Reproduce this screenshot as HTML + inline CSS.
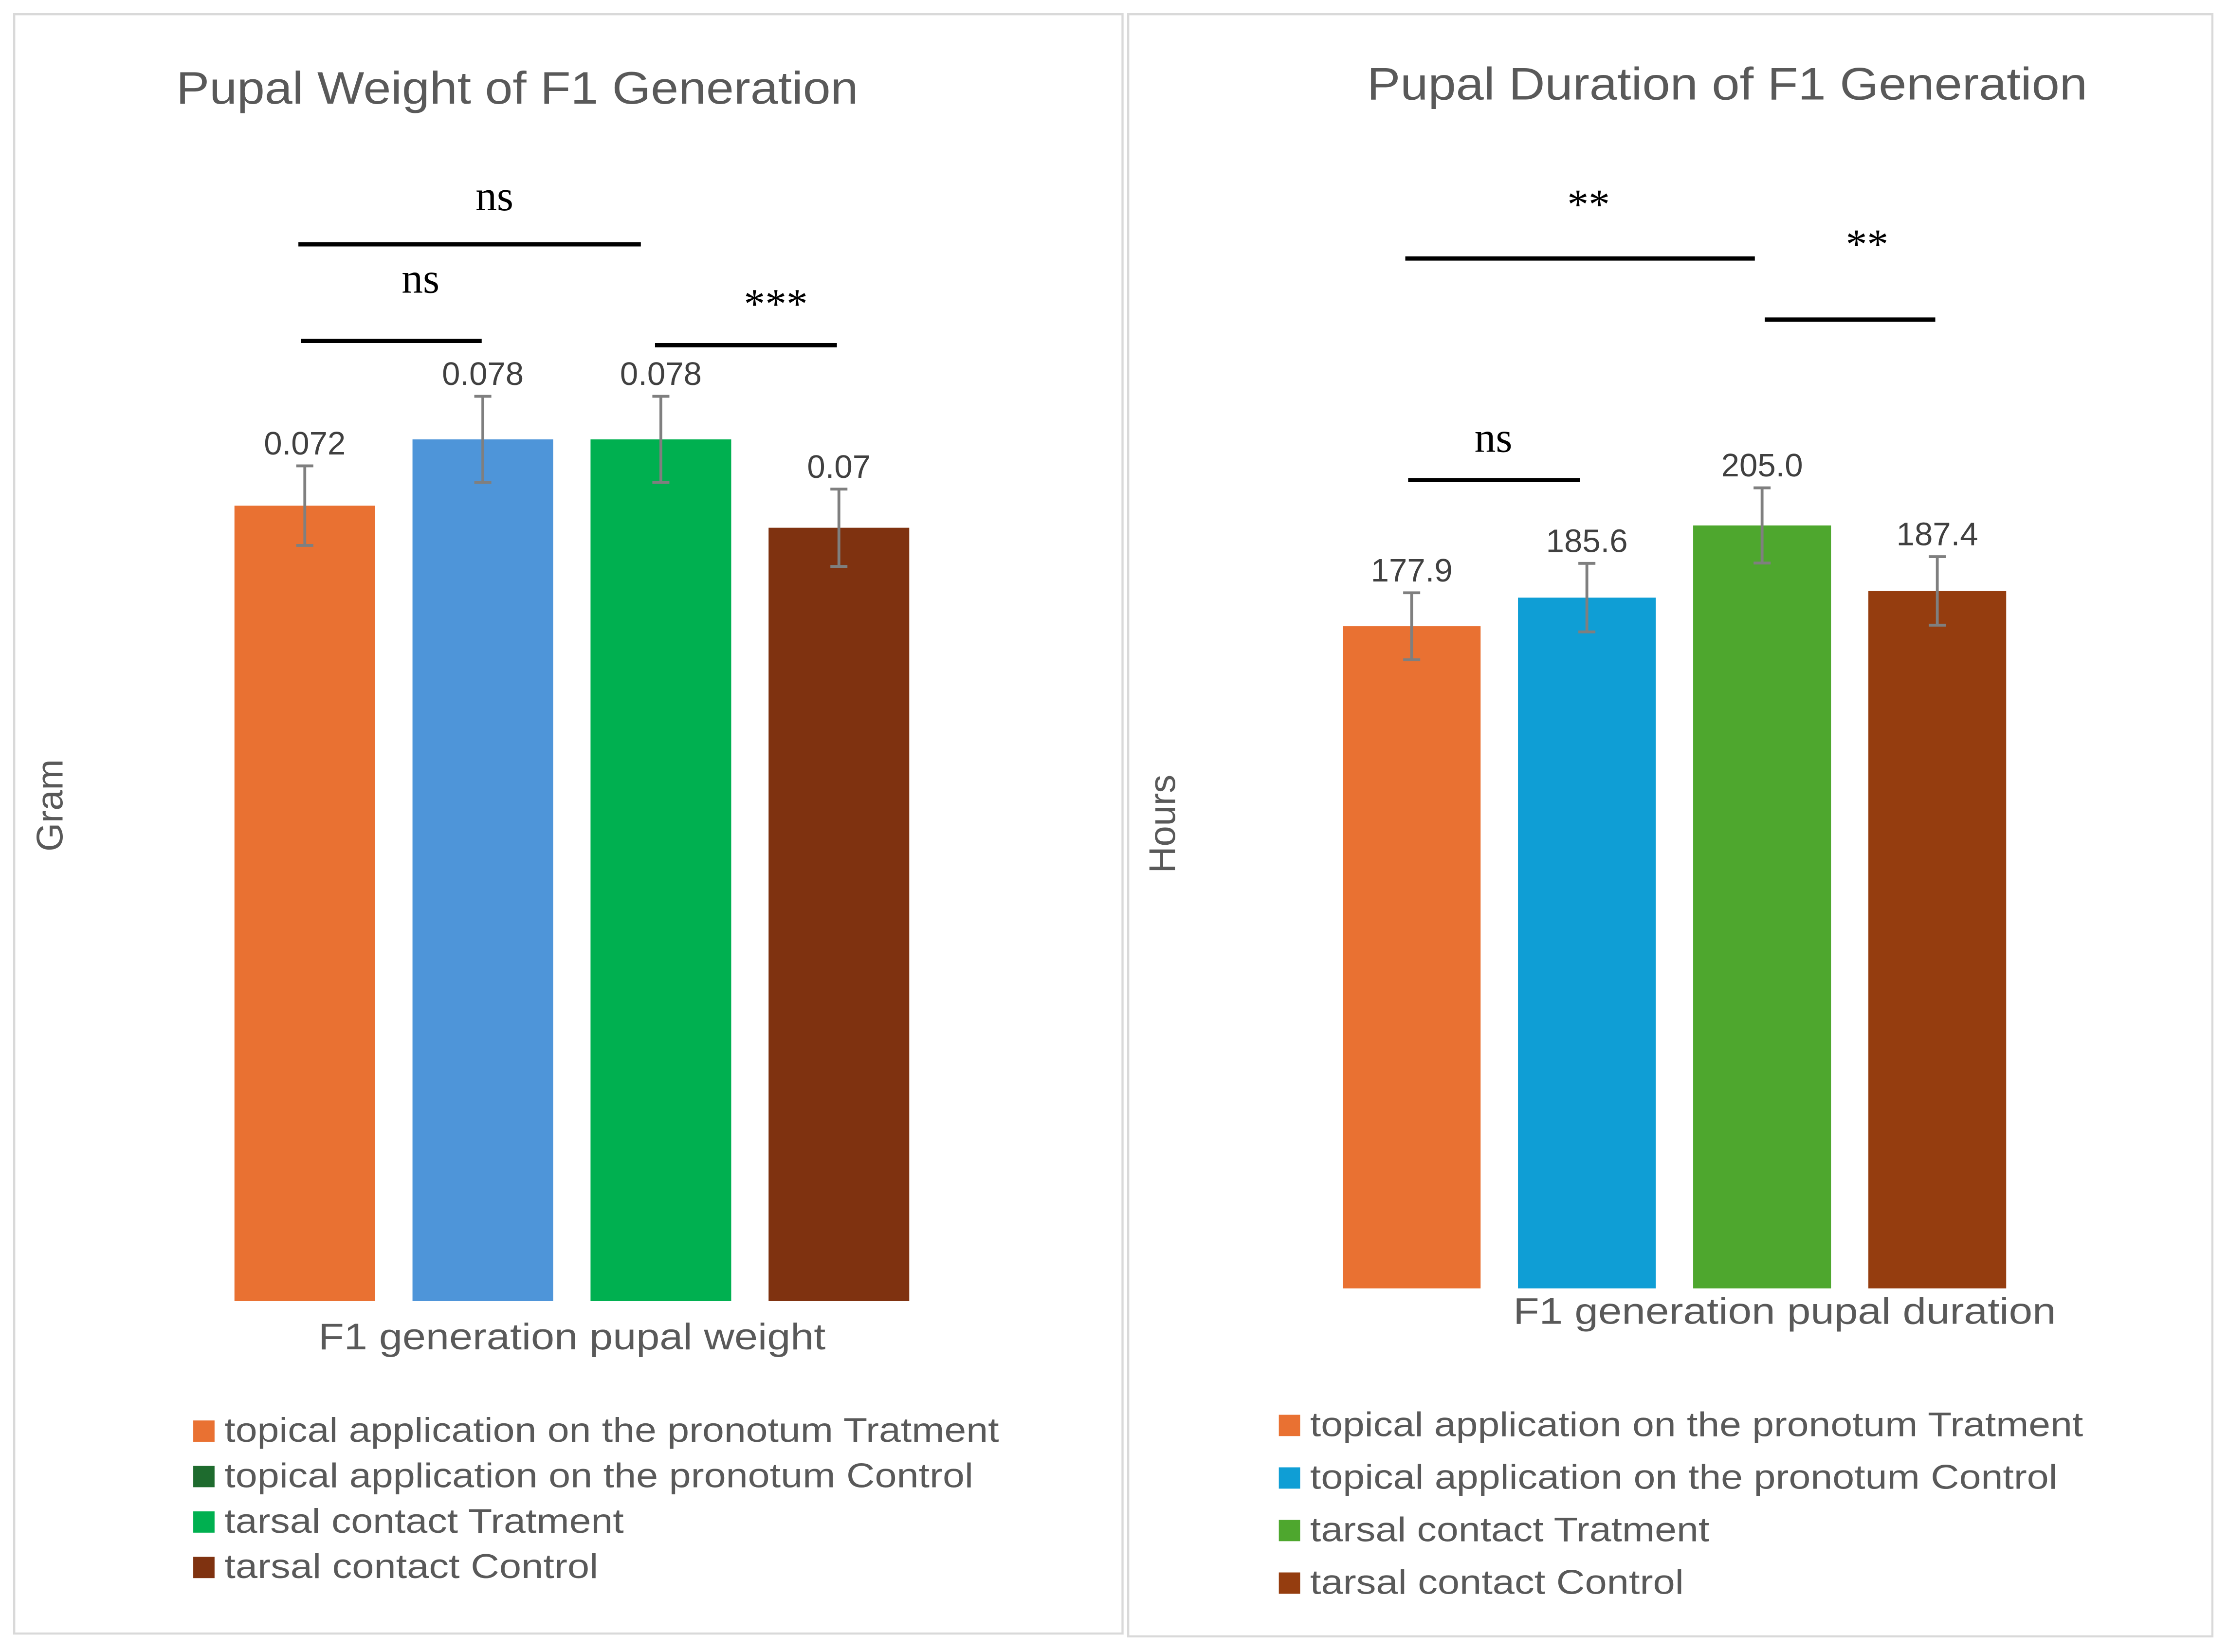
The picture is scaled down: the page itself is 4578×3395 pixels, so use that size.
<!DOCTYPE html>
<html><head><meta charset="utf-8"><style>
html,body{margin:0;padding:0;background:#fff}
svg{display:block}
text{font-family:"Liberation Sans",sans-serif}
</style></head><body>
<svg id="svg" width="4578" height="3395" viewBox="0 0 1568 1163" preserveAspectRatio="none" xmlns="http://www.w3.org/2000/svg">
<rect x="0" y="0" width="1568" height="1163" fill="#fff"/>
<rect x="10" y="10" width="780" height="1140" fill="none" stroke="#d9d9d9" stroke-width="1.5"/>
<rect x="794" y="10" width="763" height="1142" fill="none" stroke="#d9d9d9" stroke-width="1.5"/>
<text x="124" y="73" font-size="32" fill="#595959" textLength="480" lengthAdjust="spacingAndGlyphs">Pupal Weight of F1 Generation</text>
<text x="962" y="70" font-size="32" fill="#595959" textLength="507" lengthAdjust="spacingAndGlyphs">Pupal Duration of F1 Generation</text>
<text transform="translate(44,567) rotate(-90)" font-size="26" fill="#595959" text-anchor="middle">Gram</text>
<text transform="translate(827,580) rotate(-90)" font-size="26" fill="#595959" text-anchor="middle">Hours</text>
<text x="224" y="950" font-size="26" fill="#595959" textLength="357" lengthAdjust="spacingAndGlyphs">F1 generation pupal weight</text>
<text x="1065" y="932" font-size="26" fill="#595959" textLength="382" lengthAdjust="spacingAndGlyphs">F1 generation pupal duration</text>
<g id="L"></g><g id="R"></g>
<g stroke="#000" stroke-width="3">
<line x1="210" y1="172" x2="451" y2="172"/><line x1="212" y1="240" x2="339" y2="240"/><line x1="461" y1="243" x2="589" y2="243"/>
<line x1="989" y1="182" x2="1235" y2="182"/><line x1="1242" y1="225" x2="1362" y2="225"/><line x1="991" y1="338" x2="1112" y2="338"/>
</g>
<g font-size="30" fill="#000" text-anchor="middle">
<text x="348" y="148" style="font-family:'Liberation Serif',serif">ns</text>
<text x="296" y="206" style="font-family:'Liberation Serif',serif">ns</text>
<text x="546" y="224" style="font-family:'Liberation Serif',serif">***</text>
<text x="1118" y="154" style="font-family:'Liberation Serif',serif">**</text>
<text x="1314" y="182" style="font-family:'Liberation Serif',serif">**</text>
<text x="1051" y="318" style="font-family:'Liberation Serif',serif">ns</text>
</g>
</svg>
<script>
const categories=["topical application on the pronotum Tratment","topical application on the pronotum Control","tarsal contact Tratment","tarsal contact Control"];
const weightValues=[0.072,0.078,0.078,0.07];
const weightErrors=[0.0036,0.0039,0.0039,0.0035];
const weightLabels=["0.072","0.078","0.078","0.07"];
const durationValues=[177.9,185.6,205.0,187.4];
const durationErrors=[9.0,9.2,10.1,9.2];
const durationLabels=["177.9","185.6","205.0","187.4"];
const leftLegendWidths=[545,527,281,263];
const rightLegendWidths=[544,526,281,263];
const NS="http://www.w3.org/2000/svg";
function mk(p,t,a){const e=document.createElementNS(NS,t);for(const k in a)e.setAttribute(k,a[k]);p.appendChild(e);return e;}
function chart(gid,vals,errs,labels,colors,x0,step,bw,base,scale,legendColors,legX,legY,legStep,prefix,legW){
  const g=document.getElementById(gid);
  const y=v=>base-v*scale;
  vals.forEach((v,i)=>{
    const x=x0+i*step;
    const r=mk(g,'rect',{x:x,y:y(v),width:bw,height:base-y(v),fill:colors[i]});
    
    
    const cx=x+bw/2,e=errs[i];
    const eb=mk(g,'path',{d:`M${cx},${y(v+e)}V${y(v-e)}M${cx-6},${y(v+e)}H${cx+6}M${cx-6},${y(v-e)}H${cx+6}`,stroke:'#7f7f7f','stroke-width':2,fill:'none'});
    
    
    const t=mk(g,'text',{x:cx,y:y(v+e)-8,'font-size':23,fill:'#404040','text-anchor':'middle'});
    t.textContent=labels[i];
    
    
  });
  categories.forEach((c,i)=>{
    const yy=legY+i*legStep;
    const s=mk(g,'rect',{x:legX,y:yy-7,width:15,height:15,fill:legendColors[i]});
    
    
    const t=mk(g,'text',{x:legX+22,y:yy+8,'font-size':24,fill:'#595959',textLength:legW[i],lengthAdjust:'spacingAndGlyphs'});
    t.textContent=c;
    
    
  });
}
chart('L',weightValues,weightErrors,weightLabels,['#E97132','#4E95D9','#00B050','#7F3210'],165,125.3,99,916,7778,['#E97132','#1E6B2E','#00B050','#7F3210'],136,1007,32,'weight',leftLegendWidths);
chart('R',durationValues,durationErrors,durationLabels,['#E97132','#0F9ED5','#4EA72E','#953D0F'],945,123.3,97,907,2.62,['#E97132','#0F9ED5','#4EA72E','#953D0F'],900,1003,37,'duration',rightLegendWidths);
</script>
</body></html>
